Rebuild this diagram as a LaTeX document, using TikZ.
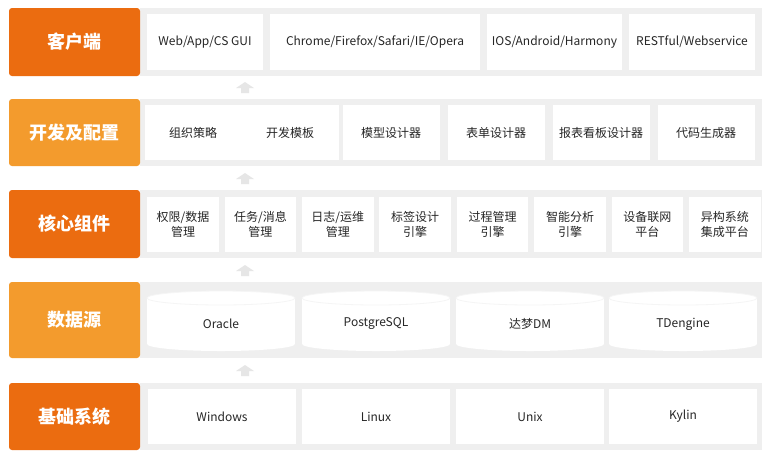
\documentclass[tikz,border=0pt]{standalone}
\usepackage{fontspec}
\setmainfont{Noto Sans CJK SC}
\begin{document}
\begin{tikzpicture}[x=1pt,y=-1pt,
  lab/.style={rounded corners=3pt,text=white,font=\fontsize{18}{20}\selectfont\bfseries,inner sep=0pt},
  dark/.style={fill=oD},light/.style={fill=oL},
  panel/.style={fill=pG,draw=none},
  cell/.style={fill=white,draw=none,inner sep=0pt,align=center,font=\fontsize{12}{15}\selectfont,text=black!85},
  uparrow/.style={fill=aG,draw=none}]
\definecolor{oD}{HTML}{EB6C10}
\definecolor{oL}{HTML}{F39B2D}
\definecolor{pG}{HTML}{EFEFEF}
\definecolor{aG}{HTML}{E6E6E6}
\fill[white] (0,0) rectangle (770,456);
% rows: y top, y bottom
\foreach \t/\b in {8/76,99/166,190/258,282/358,383/450}{
  \fill[pG] (140,\t) rectangle (762,\b);
}
\node[lab,dark,minimum width=131,minimum height=68] (l1) at (74.5,42) {客户端};
\node[lab,light,minimum width=131,minimum height=67] (l2) at (74.5,132.5) {开发及配置};
\node[lab,dark,minimum width=131,minimum height=68] (l3) at (74.5,224) {核心组件};
\node[lab,light,minimum width=131,minimum height=76] (l4) at (74.5,320) {数据源};
\node[lab,dark,minimum width=131,minimum height=67] (l5) at (74.5,416.5) {基础系统};
% row 1
\node[cell,minimum width=116,minimum height=56] (c1) at (205,42) {Web/App/CS GUI};
\node[cell,minimum width=210,minimum height=56] (c2) at (375,42) {Chrome/Firefox/Safari/IE/Opera};
\node[cell,minimum width=135,minimum height=56] (c3) at (554.5,42) {IOS/Android/Harmony};
\node[cell,minimum width=126,minimum height=56] (c4) at (692,42) {RESTful/Webservice};
% row 2
\foreach \n/\x/\s in {d1/193/组织策略,d2/290/开发模板,d3/391/模型设计器,d4/496/表单设计器,d5/601/报表看板设计器,d6/706/代码生成器}{
  \node[cell,minimum width=97,minimum height=55] (\n) at (\x,132.5) {\s};
}
% row 3
\foreach \n/\i/\s in {k1/0/{权限/数据\\管理},k2/1/{任务/消息\\管理},k3/2/{日志/运维\\管理},k4/3/{标签设计\\引擎},k5/4/{过程管理\\引擎},k6/5/{智能分析\\引擎},k7/6/{设备联网\\平台},k8/7/{异构系统\\集成平台}}{
  \node[cell,minimum width=71.5,minimum height=55] (\n) at ({183+77.4*\i},224) {\s};
}
% row 4 cylinders
\foreach \n/\x/\s in {s1/221/Oracle,s2/376/PostgreSQL,s3/530/达梦DM,s4/683/TDengine/MongoDB}{
  \fill[white] (\x-74,298) rectangle (\x+74,344);
  \fill[white] (\x,344) ellipse (74 and 7);
  \fill[white] (\x,298) ellipse (74 and 7);
  \draw[pG!80!black!15,line width=0.8] (\x,298) ellipse (74 and 7);
  \node[cell] (\n) at (\x,324) {\s};
}
% row 5
\foreach \n/\x/\s in {b1/222/Windows,b2/376/Linux,b3/530/Unix,b4/683/Kylin/Euler}{
  \node[cell,minimum width=148,minimum height=55] (\n) at (\x,416.5) {\s};
}
% arrows
\foreach \y in {88,179,271,371}{
  \fill[aG] (245,\y-6) -- (254,\y) -- (249,\y) -- (249,\y+5) -- (241,\y+5) -- (241,\y) -- (236,\y) -- cycle;
}
\end{tikzpicture}
\end{document}
